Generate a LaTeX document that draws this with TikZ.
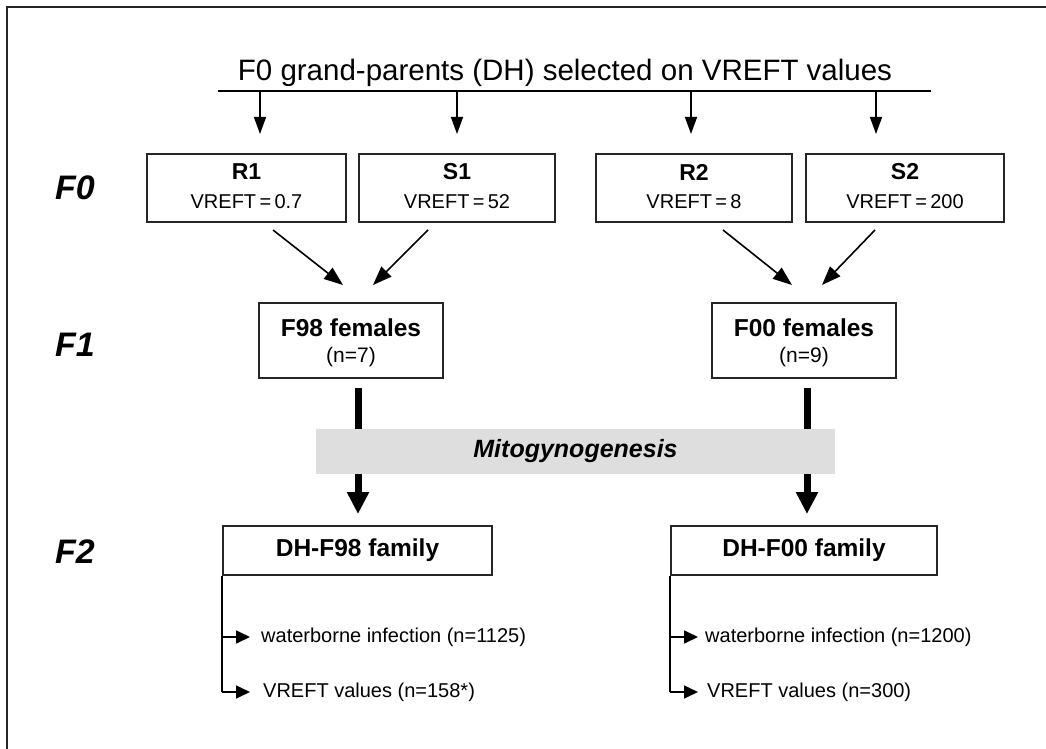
\documentclass[tikz,border=0pt]{standalone}
\usepackage{fontspec}
\setmainfont{Liberation Sans}
\usetikzlibrary{arrows.meta}
\begin{document}
\begin{tikzpicture}[x=1pt,y=-1pt,
  box/.style={draw=black!85,line width=1.8pt,inner sep=0pt,align=center},
  thin/.style={line width=1.5pt,-{Triangle[length=17pt,width=12pt]}},
  diag/.style={line width=1.6pt,-{Triangle[length=19pt,width=14pt]}},
  thick/.style={line width=7pt},
  thickarr/.style={line width=7pt,-{Triangle[length=22pt,width=21pt]}},
  small/.style={line width=1.6pt,-{Triangle[length=14pt,width=13pt]}},
  gen/.style={font=\fontsize{34}{38}\selectfont\bfseries\itshape},
  lab/.style={font=\fontsize{20}{22}\selectfont,anchor=west,inner sep=0pt}
]
\useasboundingbox (0,0) rectangle (1046,749);
% frame
\draw[line width=2pt,black!85] (7,760) -- (7,7) -- (1060,7);

% title
\node[font=\fontsize{29.5}{32}\selectfont] (title) at (565,73) {F0 grand-parents (DH) selected on VREFT values};
\coordinate (hl) at (218,91);
\coordinate (hr) at (931,91);
\draw[line width=1.8pt] (hl) -- (hr);

% generation labels
\node[gen] (g0) at (75,188) {F0};
\node[gen] (g1) at (75,345) {F1};
\node[gen] (g2) at (75,552) {F2};

% F0 boxes
\node[box,minimum width=199pt,minimum height=68pt] (R1) at (246.5,188) {};
\node[box,minimum width=196pt,minimum height=68pt] (S1) at (457,188) {};
\node[box,minimum width=196pt,minimum height=68pt] (R2) at (694,188) {};
\node[box,minimum width=198pt,minimum height=68pt] (S2) at (905,188) {};
\foreach \n/\t/\v in {R1/R1/0.7,S1/S1/52,R2/R2/8,S2/S2/200}{
  \node[font=\fontsize{23}{25}\selectfont\bfseries] (\n t) at ([yshift=16pt]\n.center) {\t};
  \node[font=\fontsize{20}{22}\selectfont] (\n v) at ([yshift=-14pt]\n.center) {VREFT\,=\,\v};
}

% arrows from title line
\foreach \x/\n in {260/a,457/b,691/c,876/d}{
  \coordinate (\n s) at (\x,91);
  \coordinate (\n e) at (\x,134);
  \draw[thin] (\n s) -- (\n e);
}

% F1 boxes
\node[box,minimum width=184pt,minimum height=75pt] (F98) at (351,340.5) {};
\node[font=\fontsize{24.5}{27}\selectfont\bfseries] (F98t) at ([yshift=12.5pt]F98.center) {F98 females};
\node[font=\fontsize{21}{23}\selectfont] (F98n) at ([yshift=-16.5pt]F98.center) {(n=7)};
\node[box,minimum width=184pt,minimum height=75pt] (F00) at (804,340.5) {};
\node[font=\fontsize{24.5}{27}\selectfont\bfseries] (F00t) at ([yshift=12.5pt]F00.center) {F00 females};
\node[font=\fontsize{21}{23}\selectfont] (F00n) at ([yshift=-16.5pt]F00.center) {(n=9)};

% diagonal arrows
\coordinate (d1s) at (273,230); \coordinate (d1e) at (343,285);
\coordinate (d2s) at (428,230); \coordinate (d2e) at (373,285);
\coordinate (d3s) at (723,230); \coordinate (d3e) at (792,285);
\coordinate (d4s) at (875,230); \coordinate (d4e) at (822,285);
\draw[diag] (d1s) -- (d1e);
\draw[diag] (d2s) -- (d2e);
\draw[diag] (d3s) -- (d3e);
\draw[diag] (d4s) -- (d4e);

% mitogynogenesis band
\node[fill=black!13,minimum width=519pt,minimum height=45pt,inner sep=0pt,
  font=\fontsize{25}{27}\selectfont\bfseries\itshape] (mito) at (575.5,451.5) {Mitogynogenesis};

% thick connectors
\coordinate (t1a) at (358,388); \coordinate (t1b) at (358,429);
\coordinate (t1c) at (358,474); \coordinate (t1d) at (358,514);
\coordinate (t2a) at (807,388); \coordinate (t2b) at (807,429);
\coordinate (t2c) at (807,474); \coordinate (t2d) at (807,514);
\draw[thick] (t1a) -- (t1b);
\draw[thickarr] (t1c) -- (t1d);
\draw[thick] (t2a) -- (t2b);
\draw[thickarr] (t2c) -- (t2d);

% F2 boxes
\node[box,minimum width=269pt,minimum height=49pt,font=\fontsize{24.5}{27}\selectfont\bfseries] (D98) at (357.5,550.5) {DH-F98 family};
\node[box,minimum width=266pt,minimum height=49pt,font=\fontsize{24.5}{27}\selectfont\bfseries] (D00) at (804,550.5) {DH-F00 family};

% outcome labels
\node[lab] (w98) at (261,637) {waterborne infection (n=1125)};
\node[lab] (v98) at (263,692) {VREFT values (n=158*)};
\node[lab] (w00) at (705,637) {waterborne infection (n=1200)};
\node[lab] (v00) at (707,692) {VREFT values (n=300)};

% brackets
\draw[line width=1.6pt] (D98.south west) -- (D98.south west |- v98.west);
\draw[small] (D98.south west |- v98.west) -- ([xshift=-13pt]v98.west);
\draw[small] (D98.south west |- w98.west) -- ([xshift=-11pt]w98.west);
\draw[line width=1.6pt] (D00.south west) -- (D00.south west |- v00.west);
\draw[small] (D00.south west |- v00.west) -- ([xshift=-9pt]v00.west);
\draw[small] (D00.south west |- w00.west) -- ([xshift=-7pt]w00.west);
\end{tikzpicture}
\end{document}
